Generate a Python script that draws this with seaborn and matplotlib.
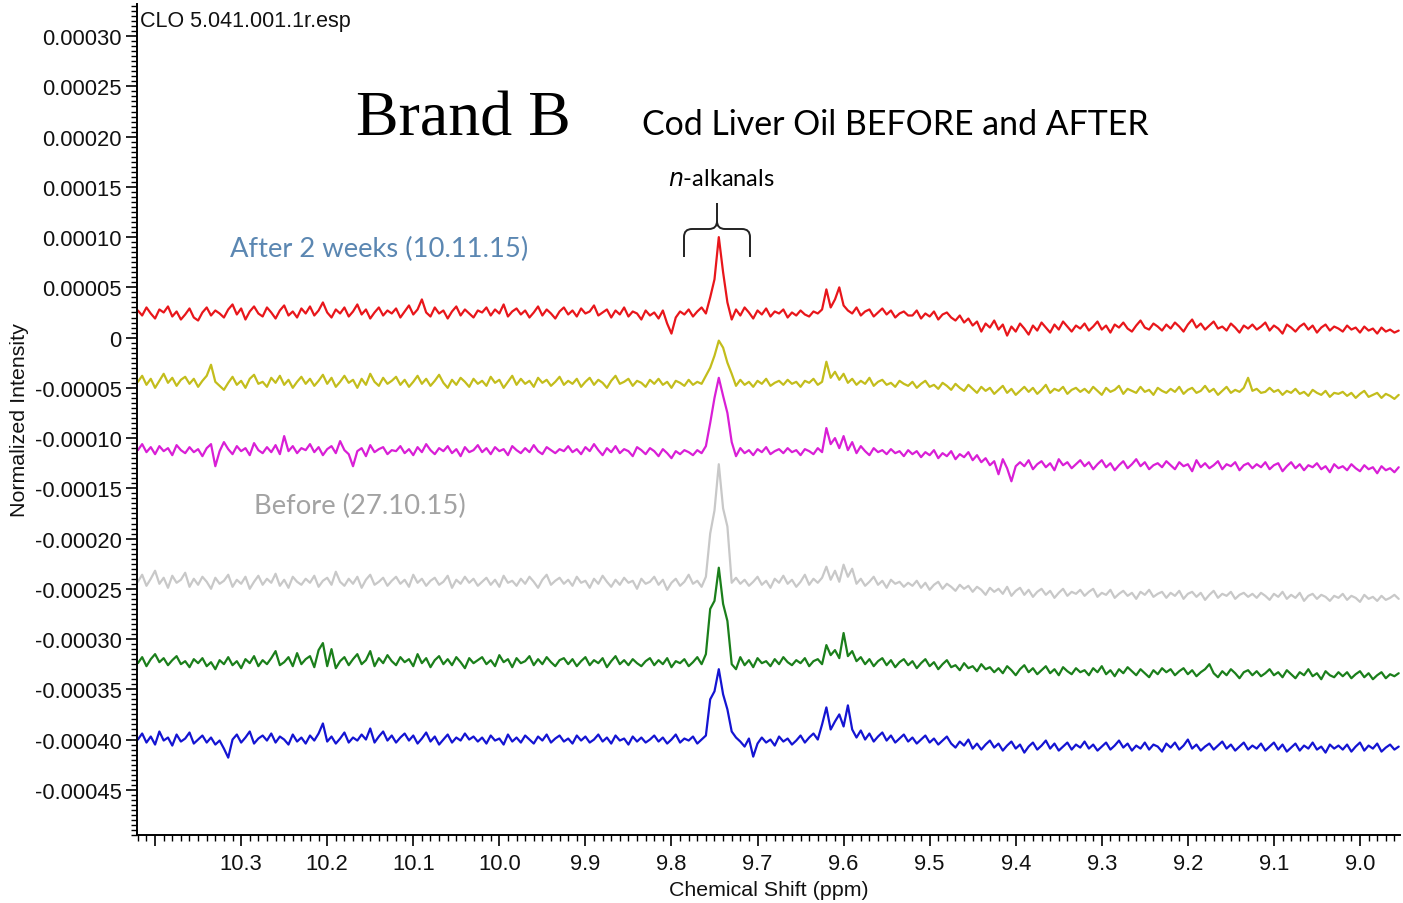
import numpy as np
import pandas as pd
import matplotlib
matplotlib.use("Agg")
import matplotlib.pyplot as plt
import seaborn as sns
from matplotlib.ticker import MultipleLocator, FixedLocator, FuncFormatter
from matplotlib.path import Path
from matplotlib.patches import PathPatch

# ---------------- data ----------------
ppm_start = 10.420
ppm_step = 0.005
n_points = 294
ppm = np.round(ppm_start - ppm_step * np.arange(n_points), 3)

UNIT = 1e-6  # intensities below are in units of 1e-6

red = [
    27, 22, 30, 24, 19, 28, 25, 31, 21, 26, 18, 23, 29, 20, 17, 25, 30, 22, 27, 24,
    20, 28, 33, 23, 29, 18, 26, 31, 24, 21, 30, 25, 19, 27, 32, 22, 26, 20, 29, 24,
    31, 22, 27, 35, 25, 20, 28, 24, 30, 21, 26, 33, 23, 28, 19, 25, 30, 22, 27, 24,
    29, 20, 26, 32, 23, 28, 38, 25, 21, 30, 24, 27, 19, 26, 31, 22, 28, 24, 20, 27,
    25, 30, 22, 28, 24, 33, 21, 26, 29, 23, 27, 20, 25, 31, 22, 28, 24, 19, 26, 30,
    23, 27, 21, 29, 24, 26, 32, 22, 25, 28, 20, 27, 23, 30, 21, 26, 24, 18, 27, 22,
    25, 19, 27, 14, 4, 20, 26, 23, 28, 21, 26, 30, 24, 40, 58, 100, 65, 35, 18, 28,
    22, 30, 25, 19, 27, 23, 29, 21, 26, 24, 28, 20, 25, 22, 27, 23, 21, 26, 24, 28,
    48, 30, 38, 50, 32, 27, 24, 30, 22, 26, 28, 21, 25, 29, 23, 27, 20, 24, 26, 22,
    22, 27, 19, 24, 21, 26, 18, 23, 25, 20, 17, 22, 15, 19, 12, 16, 6, 14, 10, 17,
    8, 13, 2, 11, 6, 14, 9, 3, 12, 7, 15, 10, 5, 13, 8, 16, 11, 6, 12, 9,
    14, 7, 11, 16, 8, 12, 5, 13, 10, 15, 9, 6, 12, 17, 10, 8, 14, 11, 7, 13,
    9, 15, 11, 6, 13, 18, 10, 14, 8, 12, 16, 9, 11, 7, 14, 10, 5, 12, 9, 13,
    8, 11, 15, 7, 12, 9, 4, 13, 10, 6, 11, 14, 8, 12, 5, 10, 13, 7, 11, 9,
    6, 12, 8, 10, 5, 11, 7, 9, 4, 10, 6, 8, 5, 7,
]

yellow = [
    -44, -38, -47, -41, -50, -43, -36, -45, -40, -48, -42, -39, -46, -41, -49, -43, -38, -27, -44, -48,
    -52, -45, -39, -47, -43, -50, -41, -37, -46, -44, -49, -40, -45, -38, -47, -42, -50, -44, -39, -46,
    -41, -48, -43, -37, -46, -40, -49, -44, -38, -45, -42, -50, -41, -47, -36, -44, -48, -40, -46, -43,
    -39, -47, -42, -49, -44, -38, -46, -41, -48, -43, -37, -45, -50, -42, -47, -40, -44, -49, -41, -46,
    -43, -48, -39, -45, -42, -50, -44, -38, -47, -41, -46, -43, -49, -40, -45, -42, -48, -44, -39, -47,
    -43, -46, -41, -49, -44, -40, -47, -42, -45, -50, -43, -38, -46, -44, -41, -48, -43, -45, -49, -42,
    -46, -41, -47, -44, -50, -43, -45, -48, -42, -47, -44, -46, -38, -30, -18, -3, -10, -25, -36, -48,
    -42, -47, -44, -49, -43, -46, -41, -48, -45, -43, -47, -42, -46, -44, -49, -43, -45, -41, -47, -44,
    -24, -40, -34, -42, -36, -45, -41, -47, -43, -46, -40, -48, -44, -42, -47, -45, -49, -43, -46, -48,
    -44, -50, -46, -43, -49, -47, -51, -45, -48, -52, -46, -50, -53, -47, -51, -55, -49, -53, -50, -56,
    -52, -48, -55, -51, -57, -53, -49, -54, -50, -56, -52, -47, -55, -51, -53, -49, -56, -52, -50, -54,
    -51, -55, -49, -53, -57, -50, -54, -52, -48, -56, -51, -53, -55, -49, -54, -52, -57, -50, -53, -55,
    -51, -54, -49, -56, -52, -50, -55, -53, -48, -54, -51, -57, -53, -49, -55, -52, -54, -50, -40, -53,
    -51, -55, -54, -50, -54, -52, -57, -53, -55, -51, -56, -54, -58, -52, -55, -57, -53, -59, -55, -56,
    -54, -58, -55, -60, -56, -53, -59, -57, -55, -60, -56, -58, -61, -57,
]

magenta = [
    -112, -106, -114, -109, -116, -108, -113, -110, -117, -107, -112, -115, -109, -114, -111, -118, -110, -106, -128, -113,
    -104, -111, -116, -108, -113, -110, -117, -105, -112, -115, -109, -114, -107, -116, -98, -113, -108, -115, -110, -112,
    -106, -114, -109, -117, -111, -108, -115, -103, -112, -116, -128, -113, -110, -118, -107, -114, -111, -109, -116, -112,
    -113, -108, -115, -111, -117, -109, -114, -106, -112, -116, -110, -113, -108, -115, -111, -118, -109, -114, -112, -107,
    -114, -110, -116, -109, -113, -111, -117, -108, -112, -115, -110, -114, -107, -113, -116, -109, -112, -115, -111, -113,
    -108, -114, -111, -116, -109, -113, -106, -112, -117, -110, -114, -108, -115, -111, -113, -118, -109, -112, -116, -110,
    -113, -118, -111, -115, -120, -113, -116, -112, -114, -117, -112, -115, -108, -85, -60, -40, -58, -75, -104, -118,
    -110, -115, -112, -117, -111, -114, -109, -116, -113, -111, -115, -110, -114, -112, -117, -111, -113, -116, -110, -114,
    -90, -106, -100, -110, -98, -112, -104, -115, -108, -113, -117, -110, -114, -112, -116, -111, -115, -113, -118, -112,
    -116, -113, -119, -114, -117, -112, -120, -115, -118, -113, -121, -116, -119, -114, -122, -117, -124, -120, -127, -123,
    -136, -121, -130, -143, -128, -124, -128, -122, -131, -126, -123, -129, -125, -132, -121, -127, -124, -130, -126, -122,
    -128, -124, -131, -126, -122, -129, -125, -132, -127, -123, -130, -126, -121, -128, -124, -131, -127, -125, -129, -123,
    -127, -131, -124, -128, -126, -133, -122, -129, -125, -130, -127, -123, -131, -126, -128, -124, -132, -127, -125, -130,
    -126, -129, -124, -131, -127, -125, -133, -128, -124, -130, -126, -132, -127, -129, -125, -131, -128, -134, -126, -130,
    -128, -132, -126, -130, -133, -127, -131, -129, -135, -128, -132, -130, -134, -129,
]

gray = [
    -243, -236, -247, -240, -232, -245, -239, -249, -237, -244, -241, -234, -248, -240, -246, -238, -243, -250, -239, -245,
    -242, -236, -248, -241, -245, -238, -250, -243, -237, -246, -240, -244, -235, -247, -241, -249, -238, -243, -246, -240,
    -244, -237, -248, -242, -239, -246, -233, -243, -247, -240, -245, -238, -249, -241, -236, -246, -243, -239, -247, -242,
    -238, -245, -241, -248, -236, -244, -240, -247, -242, -239, -246, -243, -237, -249, -241, -245, -238, -244, -240, -247,
    -243, -239, -246, -241, -248, -237, -244, -242, -247, -240, -245, -238, -243, -249, -241, -236, -246, -242, -239, -245,
    -241, -247, -238, -244, -242, -249, -240, -245, -237, -243, -248, -241, -246, -239, -244, -242, -250, -240, -245, -243,
    -238, -246, -241, -251, -244, -240, -247, -243, -236, -245, -242, -248, -238, -195, -172, -126, -170, -188, -244, -239,
    -245, -241, -247, -243, -238, -246, -242, -249, -240, -244, -237, -245, -241, -248, -243, -236, -246, -240, -244, -239,
    -228, -241, -232, -243, -226, -238, -230, -245, -240, -247, -243, -238, -246, -242, -249, -241, -245, -243, -248, -244,
    -247, -242, -249, -244, -251, -246, -243, -250, -245, -248, -252, -246, -250, -247, -253, -248, -251, -256, -249, -253,
    -250, -255, -248, -257, -252, -249, -256, -251, -258, -253, -250, -256, -252, -259, -254, -250, -257, -253, -255, -251,
    -257, -253, -250, -258, -254, -256, -251, -259, -255, -252, -257, -254, -260, -253, -256, -251, -258, -255, -253, -259,
    -254, -257, -252, -260, -255, -253, -258, -254, -261, -256, -252, -259, -255, -257, -253, -260, -256, -254, -258, -255,
    -259, -254, -257, -261, -255, -258, -253, -260, -256, -259, -254, -262, -257, -255, -260, -256, -258, -262, -257, -259,
    -255, -261, -257, -259, -263, -256, -260, -258, -262, -257, -261, -259, -256, -260,
]

green = [
    -324, -318, -327, -320, -315, -323, -319, -326, -321, -317, -325, -322, -328, -320, -324, -319, -327, -323, -330, -321,
    -325, -318, -326, -322, -329, -320, -324, -317, -327, -321, -325, -319, -312, -326, -323, -318, -327, -314, -325, -320,
    -317, -328, -311, -304, -327, -310, -329, -322, -318, -326, -320, -315, -325, -321, -312, -327, -319, -324, -316, -322,
    -326, -318, -323, -320, -327, -315, -324, -319, -328, -321, -317, -325, -320, -326, -318, -323, -329, -319, -324, -321,
    -318, -325, -321, -327, -316, -323, -320, -328, -319, -324, -322, -317, -326, -320, -325, -318, -323, -327, -321, -319,
    -325, -320, -327, -322, -318, -326, -321, -324, -319, -328, -322, -317, -325, -321, -326, -320, -324, -327, -322, -319,
    -326, -321, -325, -319, -328, -322, -324, -320, -327, -323, -318, -325, -315, -270, -262, -229, -265, -282, -325, -330,
    -318, -326, -321, -328, -319, -324, -322, -327, -320, -325, -318, -323, -326, -321, -324, -319, -327, -322, -320, -325,
    -306, -316, -311, -319, -294, -317, -312, -322, -318, -325, -320, -327, -322, -319, -326, -321, -328, -323, -320, -326,
    -322, -329, -324, -320, -327, -323, -330, -325, -321, -328, -326, -331, -324, -329, -327, -332, -325, -330, -328, -333,
    -329, -334, -327, -331, -336, -330, -326, -333, -329, -335, -331, -327, -334, -330, -336, -328, -332, -335, -329, -333,
    -331, -336, -329, -333, -327, -335, -331, -337, -330, -334, -328, -332, -336, -330, -334, -338, -331, -335, -329, -333,
    -330, -336, -332, -329, -335, -331, -337, -333, -330, -325, -334, -338, -332, -336, -330, -334, -339, -333, -331, -336,
    -332, -337, -334, -330, -336, -333, -338, -331, -335, -339, -333, -336, -330, -337, -334, -340, -332, -336, -338, -333,
    -337, -333, -339, -335, -332, -338, -334, -340, -336, -333, -339, -335, -337, -334,
]

blue = [
    -400, -394, -403, -397, -405, -392, -401, -398, -406, -395, -402, -399, -393, -404, -400, -396, -403, -398, -405, -401,
    -409, -418, -400, -395, -403, -398, -392, -404, -399, -396, -401, -394, -403, -397, -400, -405, -395, -402, -398, -404,
    -396, -401, -394, -384, -402, -397, -404, -399, -393, -403, -398, -401, -395, -400, -389, -403, -397, -392, -401, -396,
    -403, -398, -394, -401, -396, -404, -399, -393, -402, -397, -405, -400, -395, -403, -398, -401, -394, -400, -397, -402,
    -398, -404, -396, -401, -399, -405, -395, -402, -398, -403, -396, -400, -404, -397, -401, -395, -403, -399, -396, -402,
    -399, -404, -396, -401, -397, -403, -400, -395, -402, -398, -404, -396, -401, -399, -405, -397, -402, -398, -403, -400,
    -396, -402, -398, -404, -400, -395, -403, -399, -401, -397, -404, -400, -396, -360, -352, -330, -355, -370, -392, -398,
    -402, -407, -399, -417, -404, -398, -403, -400, -406, -397, -402, -399, -405, -401, -396, -403, -398, -394, -400, -385,
    -368, -390, -382, -375, -387, -366, -390, -398, -391, -400, -394, -402, -397, -393, -401, -396, -403, -399, -395, -402,
    -398, -404, -400, -396, -403, -399, -405, -401, -397, -404, -408, -402, -406, -400, -409, -404, -410, -405, -401, -408,
    -404, -411, -406, -402, -409, -405, -413, -407, -403, -410, -406, -401, -409, -404, -411, -407, -403, -410, -405, -408,
    -402, -409, -405, -411, -407, -403, -410, -406, -401, -408, -404, -411, -406, -409, -403, -410, -405, -407, -412, -404,
    -408, -403, -410, -406, -400, -409, -405, -411, -407, -404, -410, -406, -402, -409, -405, -411, -407, -403, -410, -406,
    -409, -404, -411, -407, -403, -410, -405, -412, -408, -404, -411, -406, -409, -403, -410, -407, -413, -405, -409, -406,
    -410, -405, -412, -407, -403, -411, -406, -409, -404, -412, -408, -405, -410, -407,
]

spectra = ["red", "yellow", "magenta", "gray", "green", "blue"]
spectrum_values = [red, yellow, magenta, gray, green, blue]
spectrum_colors = ["#e8161b", "#c3bd1c", "#d91fd6", "#c8c8c8", "#1b7f1b", "#1414d2"]

y_ticks = np.round(np.arange(-0.00045, 0.000301, 0.00005), 5)
x_ticks = np.round(np.arange(9.0, 10.41, 0.1), 1)

# ---------------- frame ----------------
frames = []
for name, vals in zip(spectra, spectrum_values):
    frames.append(pd.DataFrame({"ppm": ppm, "intensity": np.asarray(vals, float) * UNIT,
                                "spectrum": name}))
df = pd.concat(frames, ignore_index=True)

sns.set_theme(style="white")
plt.rcParams["font.family"] = ["Liberation Sans", "DejaVu Sans"]

W, H = 1403, 904
fig = plt.figure(figsize=(W / 100, H / 100), dpi=100)
ax = fig.add_axes([137 / W, 1 - 836 / H, (1400 - 137) / W, (836 - 5) / H])

sns.lineplot(data=df, x="ppm", y="intensity", hue="spectrum", hue_order=spectra,
             palette=spectrum_colors, estimator=None, sort=False, legend=False,
             linewidth=1.6, ax=ax)

ax.set_xlim(10.421, 8.9535)
ax.set_ylim(-0.000495, 0.000332)

for s in ["top", "right"]:
    ax.spines[s].set_visible(False)
for s in ["left", "bottom"]:
    ax.spines[s].set_color("black")
    ax.spines[s].set_linewidth(1.4)

ax.xaxis.set_major_locator(FixedLocator(x_ticks))
ax.xaxis.set_major_formatter(FuncFormatter(lambda v, p: "" if v > 10.35 else f"{v:.1f}"))
ax.xaxis.set_minor_locator(MultipleLocator(0.01))
ax.yaxis.set_major_locator(FixedLocator(y_ticks))
ax.yaxis.set_major_formatter(FuncFormatter(lambda v, p: "0" if abs(v) < 1e-10 else f"{v:.5f}"))
ax.yaxis.set_minor_locator(MultipleLocator(0.000005))

ax.tick_params(axis="both", which="major", direction="out", length=8, width=1.2,
               color="black", labelsize=15.8, labelcolor="#111111", pad=3)
ax.tick_params(axis="x", which="major", pad=5)
ax.tick_params(axis="both", which="minor", direction="out", length=4, width=1.0, color="black")
ax.tick_params(axis="x", which="both", bottom=True)
ax.tick_params(axis="y", which="both", left=True)

ax.set_xlabel("Chemical Shift (ppm)", fontsize=15.4, color="#111111", labelpad=4)
ax.set_ylabel("Normalized Intensity", fontsize=15.4, color="#111111", labelpad=4)

# ---------------- texts ----------------
fig.text(140 / W, 1 - 21 / H, "CLO 5.041.001.1r.esp", fontsize=15.5, ha="left", va="center",
         color="#111111")
fig.text(463 / W, 1 - 121 / H, "Brand B", fontsize=46, ha="center", va="center",
         family=["Liberation Serif", "DejaVu Serif"], color="black")
fig.text(895 / W, 1 - 125 / H, "Cod Liver Oil BEFORE and AFTER", fontsize=24.4, ha="center",
         va="center", family=["Lato", "DejaVu Sans"], color="black")
fig.text(721 / W, 1 - 180 / H, r"$\it{n}$-alkanals", fontsize=17, ha="center", va="center",
         family=["Lato", "DejaVu Sans"], color="black")
fig.text(379 / W, 1 - 249 / H, "After 2 weeks (10.11.15)", fontsize=19.7, ha="center",
         va="center", family=["Lato", "DejaVu Sans"], color="#5b87b2")
fig.text(360 / W, 1 - 506 / H, "Before (27.10.15)", fontsize=19.7, ha="center", va="center",
         family=["Lato", "DejaVu Sans"], color="#a3a3a3")

# curly brace over the n-alkanal peak (figure pixel coordinates)
def px(x, y):
    return (x / 100, (H - y) / 100)

verts = [px(684, 258), px(684, 238), px(684, 230), px(692, 230), px(709, 230),
         px(717, 230), px(717, 222), px(717, 204),
         px(750, 258), px(750, 238), px(750, 230), px(742, 230), px(725, 230),
         px(717, 230), px(717, 222)]
codes = [Path.MOVETO, Path.LINETO, Path.CURVE3, Path.CURVE3, Path.LINETO,
         Path.CURVE3, Path.CURVE3, Path.LINETO,
         Path.MOVETO, Path.LINETO, Path.CURVE3, Path.CURVE3, Path.LINETO,
         Path.CURVE3, Path.CURVE3]
fig.add_artist(PathPatch(Path(verts, codes), transform=fig.dpi_scale_trans,
                         fill=False, lw=1.4, edgecolor="#222222"))

fig.savefig("out.png", dpi=100)
